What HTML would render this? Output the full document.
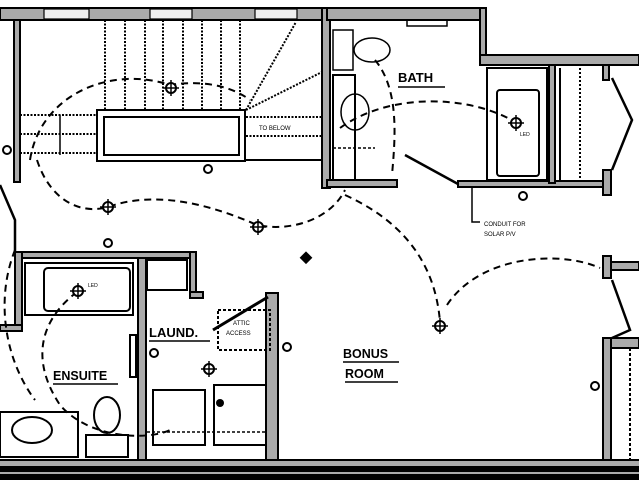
<!DOCTYPE html>
<html><head><meta charset="utf-8"><style>
html,body{margin:0;padding:0;background:#fff;width:639px;height:480px;overflow:hidden}
svg{display:block}
text{font-family:"Liberation Sans",sans-serif}
</style></head><body>
<svg width="639" height="480" viewBox="0 0 639 480" xmlns="http://www.w3.org/2000/svg">
<rect width="639" height="480" fill="#fff"/>
<g stroke="#000" stroke-width="2" fill="#aaa">
<rect x="0" y="8" width="327" height="12"/>
<rect x="14" y="20" width="6" height="162"/>
<rect x="322" y="8" width="8" height="180"/>
<rect x="327" y="8" width="158" height="12"/>
<rect x="480" y="8" width="6" height="55"/>
<rect x="480" y="55" width="159" height="10"/>
<rect x="327" y="180" width="70" height="7"/>
<rect x="458" y="181" width="152" height="6"/>
<rect x="549" y="65" width="6" height="118"/>
<rect x="603" y="65" width="6" height="15"/>
<rect x="603" y="170" width="8" height="25"/>
<rect x="603" y="256" width="8" height="22"/>
<rect x="611" y="262" width="28" height="8"/>
<rect x="603" y="338" width="8" height="124"/>
<rect x="611" y="338" width="28" height="10"/>
<rect x="15" y="252" width="180" height="6"/>
<rect x="15" y="252" width="7" height="78"/>
<rect x="0" y="325" width="22" height="6"/>
<rect x="138" y="258" width="8" height="202"/>
<rect x="190" y="252" width="6" height="44"/>
<rect x="190" y="292" width="13" height="6"/>
<rect x="266" y="293" width="12" height="167"/>
<rect x="-2" y="460" width="643" height="7"/>
<rect x="-2" y="471" width="643" height="4"/>
</g>
<rect x="0" y="467" width="639" height="4" fill="#000"/>
<rect x="0" y="475" width="639" height="5" fill="#000"/>
<g fill="#eee" stroke="#000" stroke-width="1.2">
<rect x="44" y="9" width="45" height="10"/><rect x="150" y="9" width="42" height="10"/><rect x="255" y="9" width="42" height="10"/>
</g>
<g stroke="#000" stroke-width="1.5" fill="none">
<path d="M105 20V110M125 20V110M145 20V110M163 20V110M183 20V110M202 20V110M221 20V110M240 20V110" stroke-dasharray="2 1.5" stroke-width="2"/>
<path d="M20 115H97M20 134H97M20 153H97M246 117H322M246 136H322" stroke-dasharray="2 1.5" stroke-width="2"/>
<path d="M60 115V155"/>
<path d="M246 110L296 22M246 110L322 72" stroke-dasharray="2 1.5" stroke-width="2"/>
<rect x="97" y="110" width="148" height="51" stroke-width="2"/>
<rect x="104" y="117" width="135" height="38" stroke-width="2"/>
<path d="M245 160H322" stroke-width="2"/>
<rect x="333" y="30" width="20" height="40"/>
<ellipse cx="372" cy="50" rx="18" ry="12"/>
<rect x="333" y="75" width="22" height="105" stroke-width="2"/>
<ellipse cx="355" cy="112" rx="14" ry="18"/>
<path d="M333 148H375" stroke-dasharray="3 2"/>
<rect x="407" y="20" width="40" height="6"/>
<rect x="487" y="68" width="60" height="112" stroke-width="2"/>
<rect x="497" y="90" width="42" height="86" rx="3" stroke-width="2"/>
<path d="M560 68V180" stroke-width="2"/>
<path d="M580 68V180" stroke-dasharray="2 2" stroke-width="2"/>
<path d="M405 155L458 184" stroke-width="2.5"/>
<path d="M612 78L632 120L612 170" stroke-width="2.5"/>
<path d="M612 280L630 330L612 338" stroke-width="2.5"/>
<path d="M0 185L15 220L15 252" stroke-width="2.5"/>
<path d="M472 187V222H480"/>
<rect x="25" y="263" width="108" height="52" stroke-width="2"/>
<rect x="44" y="268" width="86" height="43" rx="4" stroke-width="2"/>
<rect x="0" y="412" width="78" height="45" stroke-width="2"/>
<ellipse cx="32" cy="430" rx="20" ry="13" stroke-width="2"/>
<ellipse cx="107" cy="415" rx="13" ry="18" stroke-width="2"/>
<rect x="86" y="435" width="42" height="22" stroke-width="2"/>
<rect x="130" y="335" width="6" height="42" stroke-width="2"/>
<rect x="147" y="260" width="40" height="30" stroke-width="2"/>
<rect x="153" y="390" width="52" height="55" stroke-width="2"/>
<rect x="214" y="385" width="52" height="60" stroke-width="2"/>
<path d="M147 432H266" stroke-dasharray="3 2"/>
<path d="M213 330L268 297" stroke-width="3"/>
<rect x="218" y="310" width="52" height="40" stroke-dasharray="3 2" stroke-width="2"/>
<path d="M630 348V460" stroke-dasharray="3 2" stroke-width="2"/>
</g>
<circle cx="220" cy="403" r="4" fill="#000"/>
<g stroke="#000" stroke-width="2" fill="none" stroke-dasharray="7 5">
<path d="M30 160C40 95 110 65 170 85C200 80 230 85 250 100"/>
<path d="M37 160C50 200 80 215 108 207C150 192 200 200 257 225C290 232 330 220 345 190"/>
<path d="M340 128C390 92 470 95 515 122"/>
<path d="M375 60C400 90 395 140 392 175"/>
<path d="M345 195C400 220 435 260 440 322"/>
<path d="M447 305C480 255 560 250 600 268"/>
<path d="M77 292C40 320 30 360 60 405C90 440 150 440 170 430"/>
<path d="M15 250C-5 300 5 360 35 400"/>
</g>
<g stroke="#000" stroke-width="2" fill="#fff">
<circle cx="171" cy="88" r="5"/><circle cx="108" cy="207" r="5"/><circle cx="258" cy="227" r="5"/>
<circle cx="516" cy="123" r="5"/><circle cx="440" cy="326" r="5"/><circle cx="78" cy="291" r="5"/>
<circle cx="209" cy="369" r="5"/><circle cx="208" cy="169" r="4"/><circle cx="108" cy="243" r="4"/>
<circle cx="7" cy="150" r="4"/><circle cx="154" cy="353" r="4"/><circle cx="287" cy="347" r="4"/>
<circle cx="595" cy="386" r="4"/><circle cx="523" cy="196" r="4"/>
</g>
<g stroke="#000" stroke-width="1.5">
<path d="M163 88H179M171 80V96M100 207H116M108 199V215M250 227H266M258 219V235M508 123H524M516 115V131M432 326H448M440 318V334M70 291H86M78 283V299M201 369H217M209 361V377"/>
</g>
<rect x="302" y="253" width="9" height="9" transform="rotate(45 306 257)" fill="#000"/>
<g font-size="13" fill="#000" font-weight="bold">
<text x="398" y="82">BATH</text>
<text x="53" y="380" font-size="12.5">ENSUITE</text>
<text x="149" y="337">LAUND.</text>
<text x="343" y="358" font-size="12.5">BONUS</text>
<text x="345" y="378" font-size="12.5">ROOM</text>
</g>
<g stroke="#000" stroke-width="1.5">
<path d="M398 87H445M53 384H118M149 341H210M343 362H399M345 382H398"/>
</g>
<g font-size="6" fill="#000">
<text x="259" y="130">TO BELOW</text>
<text x="484" y="226">CONDUIT FOR</text>
<text x="484" y="236">SOLAR P/V</text>
<text x="233" y="325">ATTIC</text>
<text x="226" y="335">ACCESS</text>
<text x="520" y="136" font-size="5">LED</text>
<text x="88" y="287" font-size="5">LED</text>
</g>
</svg>
</body></html>
